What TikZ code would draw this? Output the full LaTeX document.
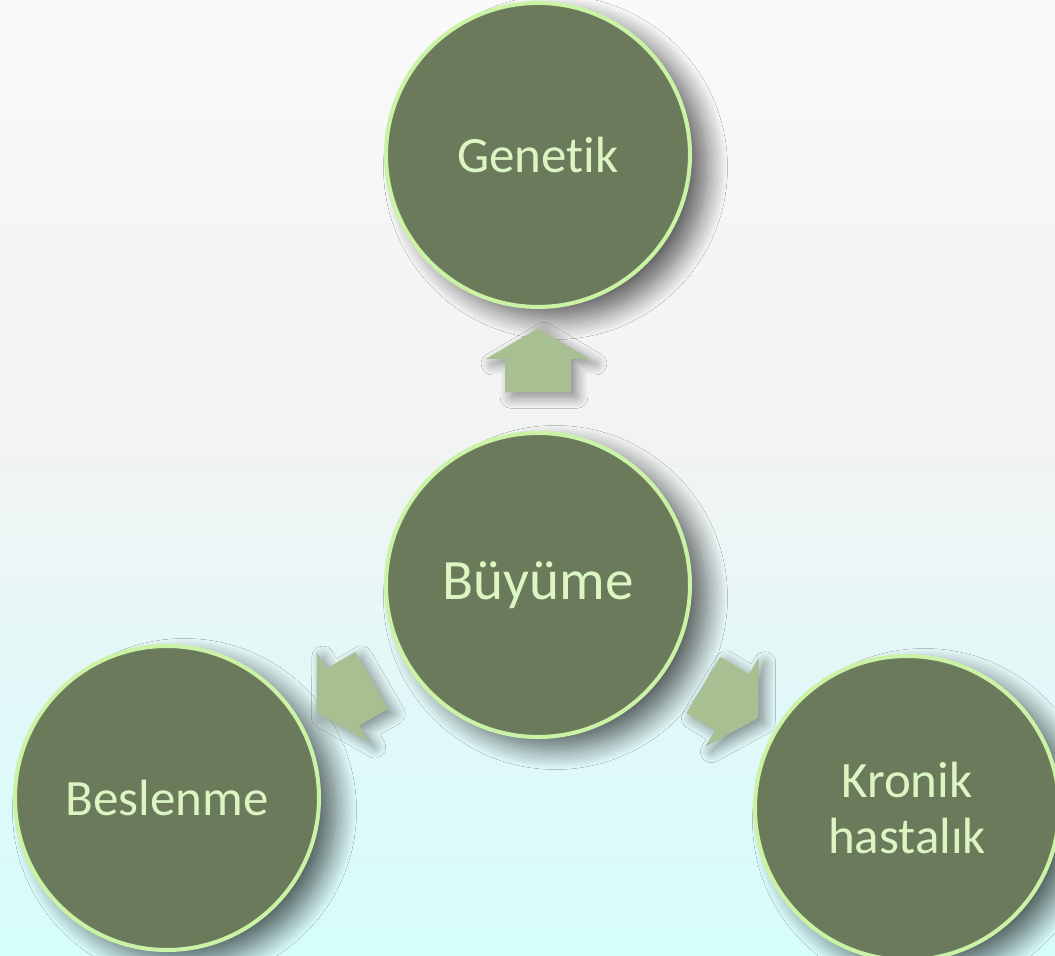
\documentclass[tikz,border=0pt]{standalone}
\usepackage{fontspec}
\setmainfont{Carlito}[Ligatures=NoCommon]
\usepackage{tikz}
\usetikzlibrary{positioning}
\usetikzlibrary{calc}
\usetikzlibrary{shapes.arrows}
\usetikzlibrary{shadows.blur}

\definecolor{fillgreen}{HTML}{6B7A5B}
\definecolor{ringgreen}{HTML}{CAF3A6}
\definecolor{textgreen}{HTML}{DCF6C3}
\definecolor{arrowgreen}{HTML}{A8BF91}
\definecolor{bgA}{HTML}{D6FCFC}
\definecolor{bgB}{HTML}{E4F7F7}
\definecolor{bgC}{HTML}{ECF6F6}
\definecolor{bgD}{HTML}{F2F3F3}
\definecolor{bgE}{HTML}{F4F4F4}
\definecolor{bgF}{HTML}{FAFAFA}

\pgfdeclareverticalshading{bgshade}{100bp}{color(0bp)=(bgA); color(25bp)=(bgA);
  color(41bp)=(bgB); color(45.7bp)=(bgC); color(51.5bp)=(bgD);
  color(59.3bp)=(bgE); color(75bp)=(bgF); color(100bp)=(bgF)}

\begin{document}
\begin{tikzpicture}[
    bubble/.style={circle, draw=ringgreen, line width=2.3pt, fill=fillgreen,
      minimum size=6.08cm, inner sep=0pt, text=textgreen, align=center,
      font=\fontsize{29}{31.5}\selectfont,
      blur shadow={shadow xshift=0.35cm, shadow yshift=-0.25cm,
        shadow blur radius=0.4cm, shadow blur steps=16, shadow opacity=60}},
    blockarrow/.style={single arrow, fill=arrowgreen, draw=none,
      inner xsep=0pt, inner ysep=0.65cm, minimum height=1.28cm,
      single arrow head extend=0.38cm, single arrow tip angle=119,
      blur shadow={shadow xshift=0.12cm, shadow yshift=-0.1cm,
        shadow blur radius=0.22cm, shadow blur steps=12, shadow opacity=45}},
    node distance=2.44cm]
    \shade[shading=bgshade] (-10.76,-7.42) rectangle (10.34,11.7);
    \useasboundingbox (-10.76,-7.42) rectangle (10.34,11.7);

    \node[bubble, font=\fontsize{32.5}{36}\selectfont] (buyume) {Büyüme};
    \node[bubble] (genetik) [above=of buyume] {Genetik};
    \node[bubble] (beslenme) [below left=4.26cm and 7.42cm of buyume.center, anchor=center] {Beslenme};
    \node[bubble] (kronik) [below right=4.46cm and 7.38cm of buyume.center, anchor=center] {Kronik\\hastalık};

    \node[blockarrow, rotate=90] (okGenetik) at ($(buyume)!0.5!(genetik)$) {};
    \node[blockarrow, rotate=210] (okBeslenme) at ($(buyume)!0.5!(beslenme)$) {};
    \node[blockarrow, rotate=-31] (okKronik) at ($(buyume)!0.5!(kronik)$) {};
\end{tikzpicture}
\end{document}
